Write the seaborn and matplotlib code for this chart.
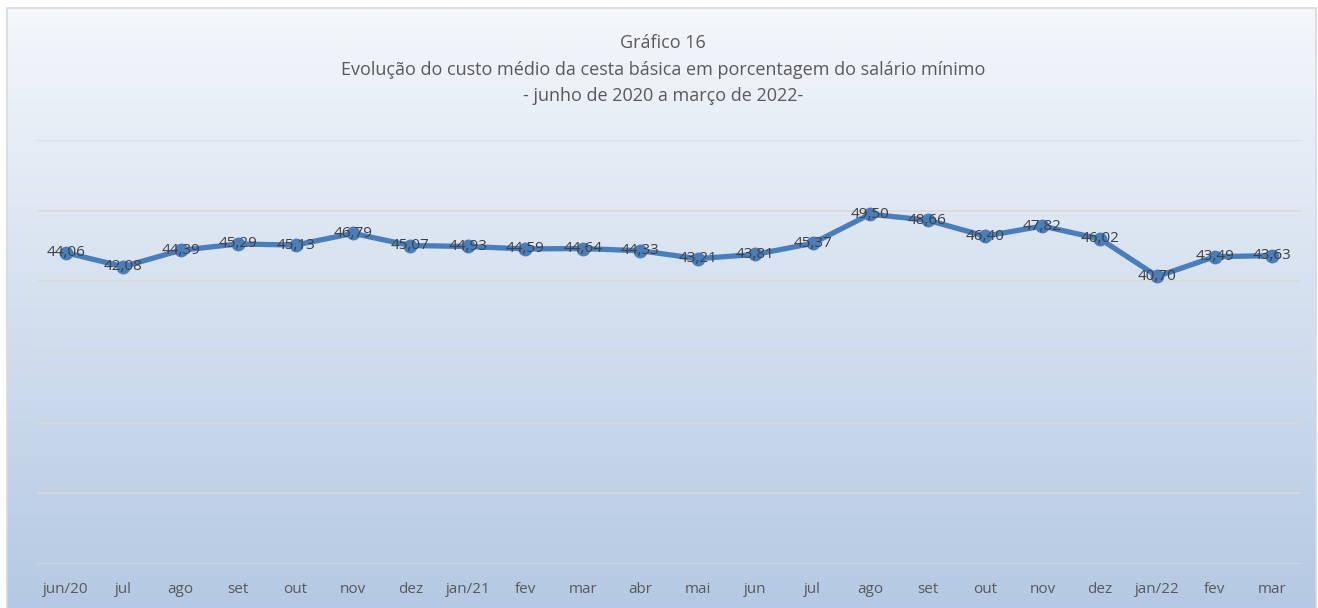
import numpy as np
import pandas as pd
import matplotlib
matplotlib.use("Agg")
import matplotlib.pyplot as plt
from matplotlib.patches import Rectangle
import seaborn as sns

months = ["jun/20", "jul", "ago", "set", "out", "nov", "dez", "jan/21", "fev", "mar", "abr",
          "mai", "jun", "jul", "ago", "set", "out", "nov", "dez", "jan/22", "fev", "mar"]
values = [44.06, 42.08, 44.39, 45.29, 45.13, 46.79, 45.07, 44.93, 44.59, 44.64, 44.33,
          43.21, 43.81, 45.37, 49.50, 48.66, 46.40, 47.82, 46.02, 40.70, 43.49, 43.63]
title_lines = ["Gráfico 16",
               "Evolução do custo médio da cesta básica em porcentagem do salário mínimo",
               "- junho de 2020 a março de 2022-"]

sns.set_theme(style="white")
plt.rcParams['font.family'] = ['Open Sans', 'DejaVu Sans']

W, H = 1318, 608
fig = plt.figure(figsize=(W / 100, H / 100), dpi=100)
fig.patch.set_facecolor("white")

# gradient background
bg = fig.add_axes([7 / W, 0, (1316 - 7) / W, 1 - 8 / H])
top = np.array([244, 247, 251]) / 255
bot = np.array([180, 201, 227]) / 255
t = np.linspace(0, 1, 256)[:, None]
grad = top[None, :] * (1 - t) + bot[None, :] * t
bg.imshow(grad[:, None, :], aspect="auto", extent=[0, 1, 0, 1])
bg.set_xlim(0, 1); bg.set_ylim(0, 1)
bg.axis("off")
fig.patches.append(Rectangle((7 / W, -0.01), (1316 - 7) / W, 1 - 8 / H + 0.01,
                             transform=fig.transFigure, fill=False,
                             edgecolor="#d9d9d9", lw=1.2, zorder=10))

ax = fig.add_axes([37 / W, 1 - 564 / H, (1301 - 37) / W, (564 - 140) / H])
ax.patch.set_alpha(0)
df = pd.DataFrame({"x": np.arange(len(months)), "v": values})
sns.lineplot(data=df, x="x", y="v", ax=ax, color="#4a7ebb", lw=3.8,
             marker="o", markersize=10, markeredgewidth=0, zorder=3)
ax.set_xlim(-0.5, len(months) - 0.5)
ax.set_ylim(0, 60)
ax.set_yticks(np.arange(0, 61, 10))
ax.yaxis.grid(True, color="#d9d9d9", lw=1.2)
ax.set_yticklabels([])
ax.tick_params(axis="y", length=0)
ax.set_xticks(np.arange(len(months)))
ax.set_xticklabels(months, color="#595959", fontsize=11)
ax.tick_params(axis="x", length=0, pad=13)
ax.set_xlabel(""); ax.set_ylabel("")
for s in ax.spines.values():
    s.set_visible(False)

for i, v in enumerate(values):
    ax.text(i, v, f"{v:.2f}".replace(".", ","), ha="center", va="center",
            fontsize=11, color="#404040", zorder=4)

ys = [43, 70, 96]
for line, y in zip(title_lines, ys):
    fig.text(0.5 + 4 / W, 1 - y / H, line, ha="center", va="center",
             fontsize=13, color="#595959")

fig.savefig("out.png", dpi=100)
